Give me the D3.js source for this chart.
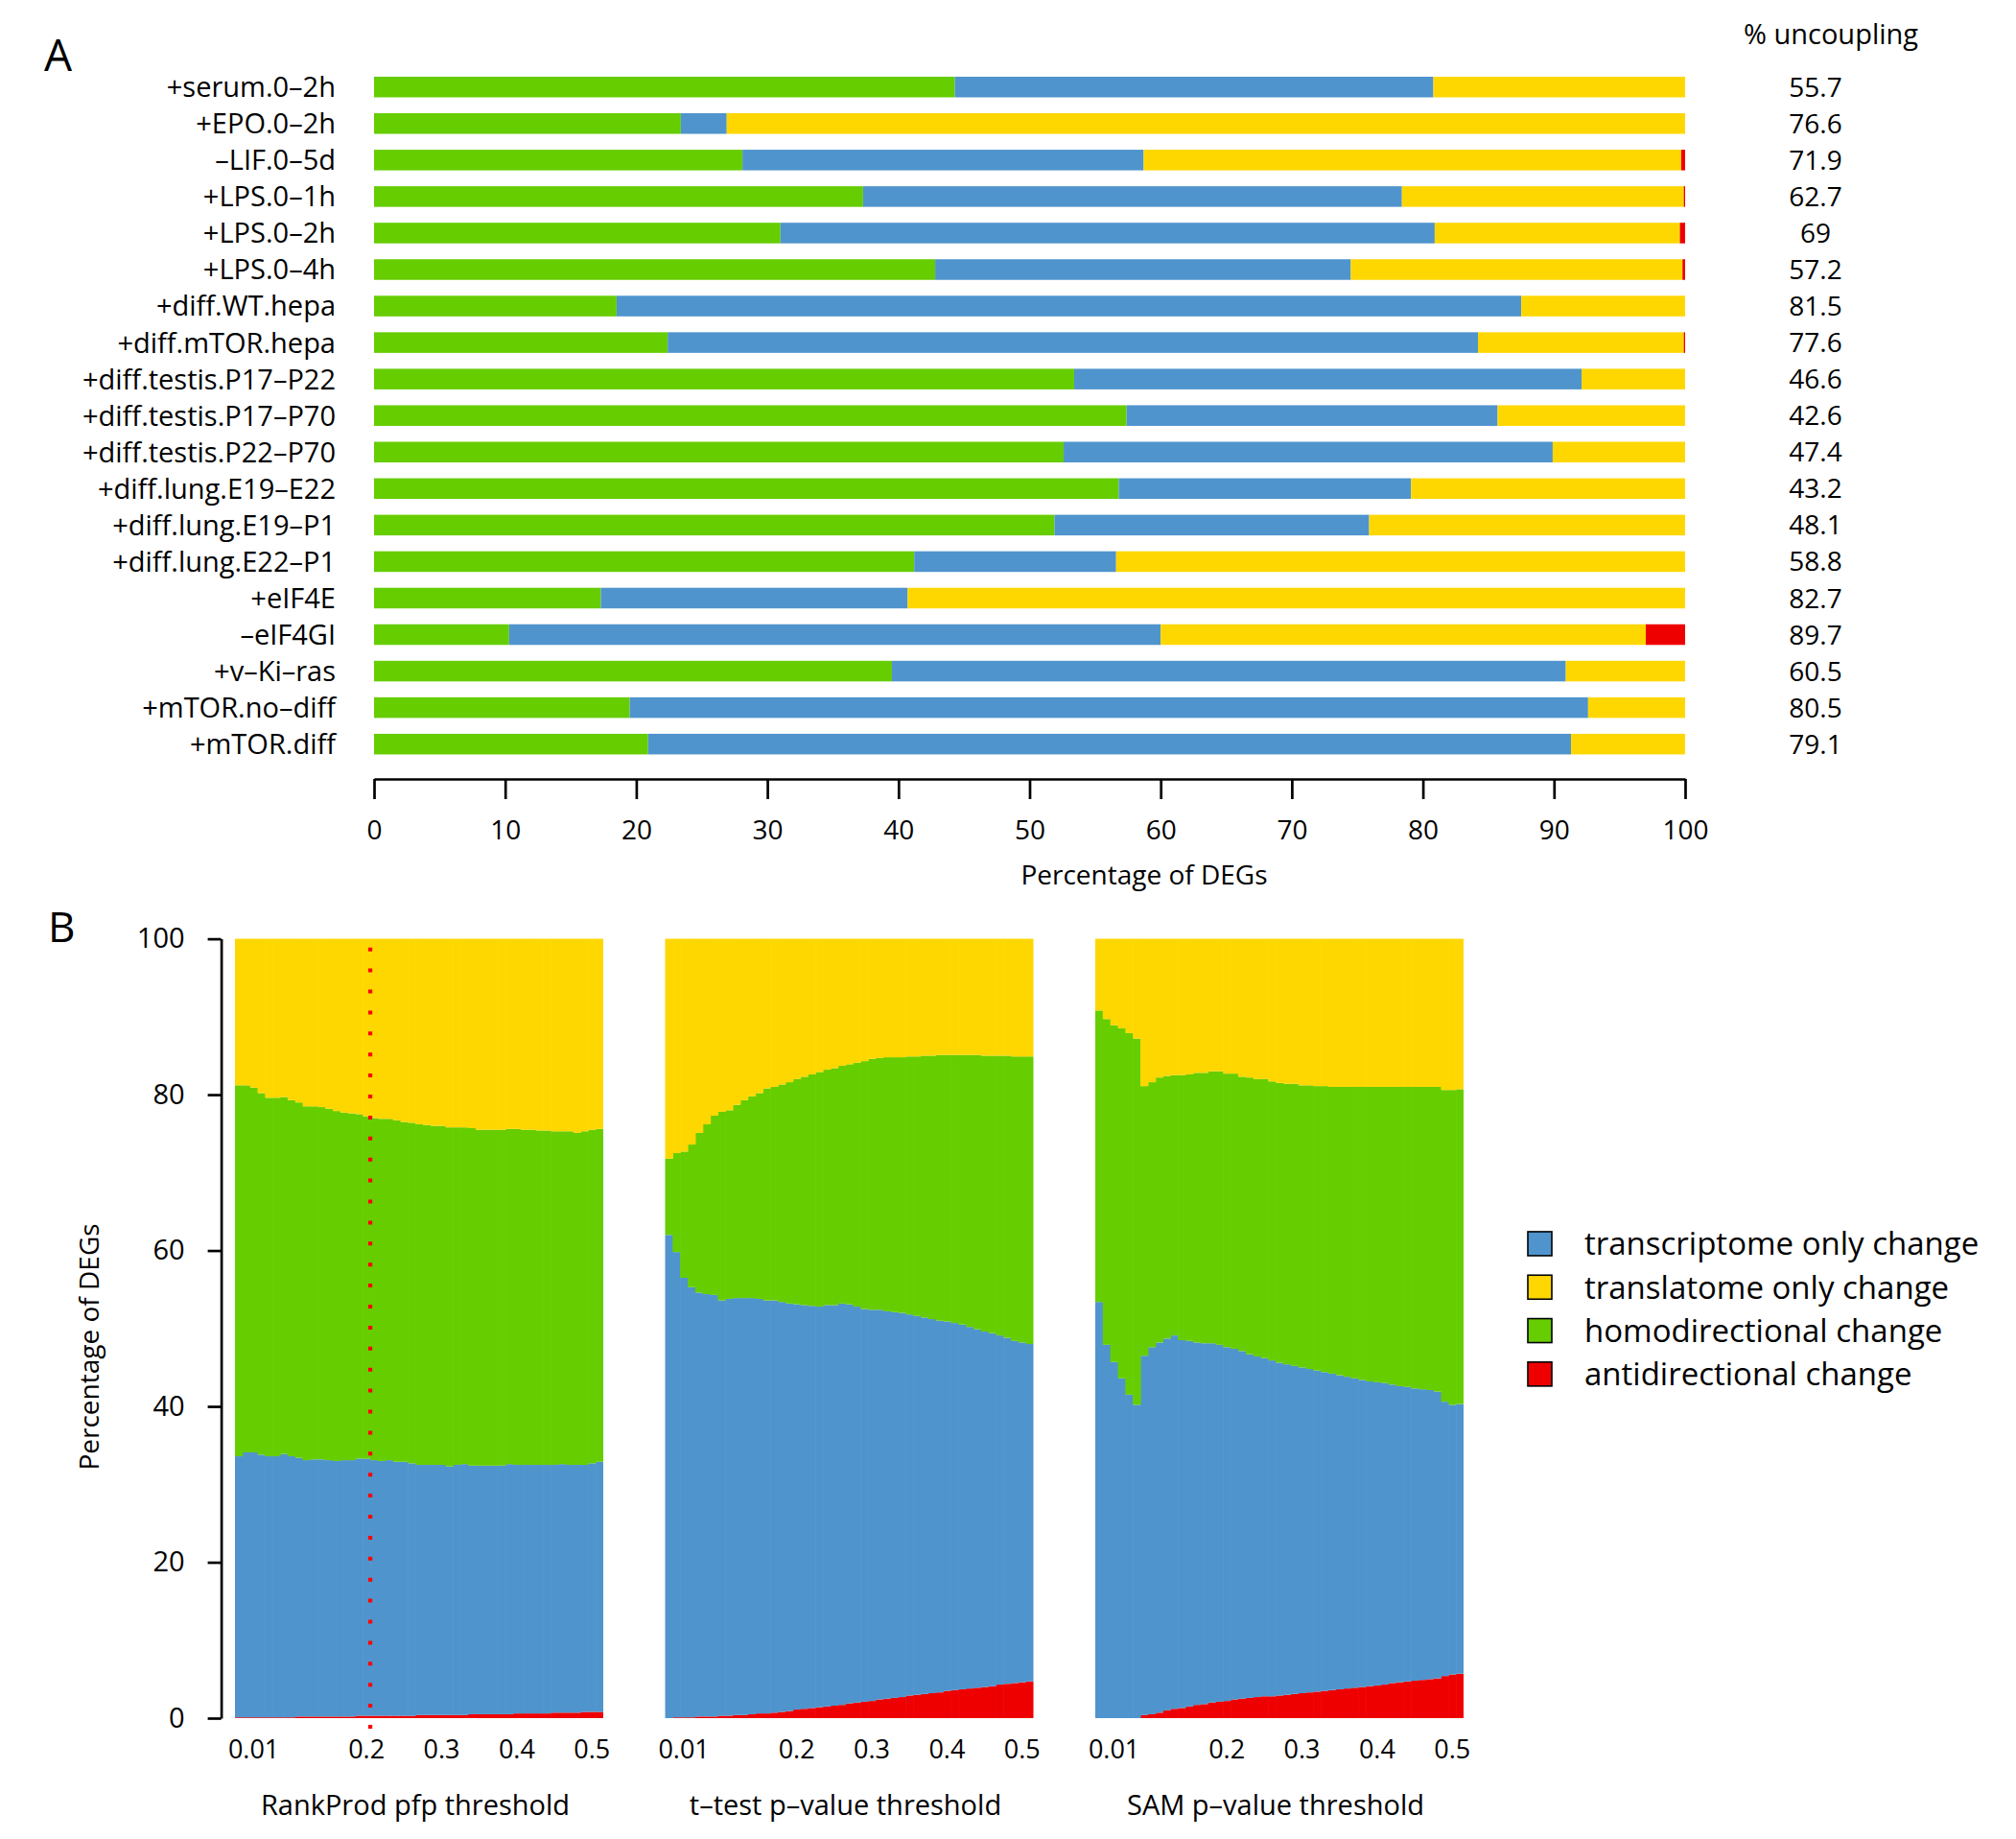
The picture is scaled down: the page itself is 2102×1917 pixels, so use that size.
<!DOCTYPE html>
<html><head><meta charset="utf-8">
<script src="https://cdn.jsdelivr.net/npm/d3@7"></script>
<style>
body{margin:0;background:#fff}
svg{display:block}
text{font-family:"Open Sans",sans-serif;fill:#000}
</style>
</head><body>
<svg id="chart" width="2102" height="1917"></svg>
<script>
// ---------------- Panel A data ----------------
const categories = ["+serum.0–2h","+EPO.0–2h","–LIF.0–5d","+LPS.0–1h","+LPS.0–2h","+LPS.0–4h",
  "+diff.WT.hepa","+diff.mTOR.hepa","+diff.testis.P17–P22","+diff.testis.P17–P70","+diff.testis.P22–P70",
  "+diff.lung.E19–E22","+diff.lung.E19–P1","+diff.lung.E22–P1","+eIF4E","–eIF4GI","+v–Ki–ras",
  "+mTOR.no–diff","+mTOR.diff"];
const homoA   = [44.3,23.4,28.1,37.3,31.0,42.8,18.5,22.4,53.4,57.4,52.6,56.8,51.9,41.2,17.3,10.3,39.5,19.5,20.9];
const transcA = [36.5,3.5,30.6,41.1,49.9,31.7,69.0,61.8,38.7,28.3,37.3,22.3,24.0,15.4,23.4,49.7,51.4,73.1,70.4];
const translA = [19.2,73.1,41.0,21.5,18.7,25.3,12.5,15.7,7.9,14.3,10.1,20.9,24.1,43.4,59.3,37.0,9.1,7.4,8.7];
const antiA   = [0,0,0.3,0.1,0.4,0.2,0,0.1,0,0,0,0,0,0,0,3.0,0,0,0];
const uncoupling = ["55.7","76.6","71.9","62.7","69","57.2","81.5","77.6","46.6","42.6","47.4","43.2","48.1","58.8","82.7","89.7","60.5","80.5","79.1"];
const xTicksA = [0,10,20,30,40,50,60,70,80,90,100];

// ---------------- Panel B data ----------------
const thresholds = [0.001,0.005,0.01,0.02,0.03,0.04,0.05,0.06,0.07,0.08,0.09,0.10,0.11,0.12,0.14,0.16,0.18,
  0.20,0.21,0.22,0.23,0.24,0.25,0.26,0.27,0.28,0.29,0.30,0.31,0.32,0.33,0.34,0.35,0.36,0.37,0.38,0.39,
  0.40,0.41,0.42,0.43,0.44,0.45,0.46,0.47,0.48,0.49,0.50,0.51];
const xTickLabelsB = [0.01,0.2,0.3,0.4,0.5];
const yTicksB = [0,20,40,60,80,100];

const rankAnti = [0.1,0.1,0.1,0.1,0.1,0.1,0.1,0.1,0.2,0.2,0.2,0.2,0.2,0.2,0.2,0.2,0.3,0.3,0.3,0.3,0.3,0.3,0.3,0.3,
  0.4,0.4,0.4,0.4,0.4,0.4,0.4,0.5,0.5,0.5,0.5,0.5,0.5,0.6,0.6,0.6,0.6,0.6,0.7,0.7,0.7,0.7,0.8,0.8,0.8];
const rankTransc = [33.5,34.0,34.0,33.7,33.5,33.5,33.8,33.5,33.2,32.9,33.0,33.0,32.9,32.8,32.9,32.9,33.0,33.0,32.8,32.7,
  32.8,32.6,32.6,32.4,32.1,32.1,32.1,32.1,31.9,32.1,32.2,31.9,31.9,31.9,31.9,31.9,32.1,31.9,31.9,31.9,
  31.9,31.9,31.8,31.9,31.8,31.8,31.7,31.9,32.1];
const rankHomo = [47.6,47.1,46.8,46.4,46.0,46.0,45.8,45.7,45.6,45.4,45.3,45.2,45.1,44.9,44.6,44.5,44.2,43.9,43.9,43.9,
  43.8,43.8,43.6,43.7,43.7,43.6,43.5,43.5,43.5,43.3,43.2,43.3,43.1,43.1,43.1,43.1,43.0,43.1,43.0,43.0,
  42.9,42.9,42.8,42.7,42.8,42.6,42.8,42.8,42.7];
const rankTransl = [18.8,18.8,19.1,19.8,20.4,20.4,20.3,20.7,21.0,21.5,21.5,21.6,21.8,22.1,22.3,22.4,22.5,22.8,23.0,23.1,
  23.1,23.3,23.5,23.6,23.8,23.9,24.0,24.0,24.2,24.2,24.2,24.3,24.5,24.5,24.5,24.5,24.4,24.4,24.5,24.5,
  24.6,24.6,24.7,24.7,24.7,24.9,24.7,24.5,24.4];

const tAnti = [0.0,0.1,0.1,0.1,0.2,0.2,0.2,0.3,0.3,0.4,0.4,0.5,0.6,0.6,0.7,0.8,0.9,1.1,1.2,1.3,
  1.4,1.5,1.6,1.7,1.9,2.0,2.1,2.2,2.4,2.5,2.6,2.7,2.9,3.0,3.1,3.2,3.3,3.5,3.6,3.7,
  3.8,3.9,4.0,4.1,4.3,4.4,4.5,4.6,4.7];
const tTransc = [62.0,59.7,56.4,55.2,54.4,54.2,54.1,53.3,53.5,53.5,53.5,53.4,53.2,53.0,52.9,52.6,52.3,52.0,51.8,51.6,
  51.4,51.5,51.4,51.5,51.2,50.8,50.4,50.2,50.0,49.7,49.5,49.3,48.9,48.6,48.3,48.0,47.7,47.4,47.1,46.8,
  46.4,46.0,45.6,45.3,44.8,44.4,43.9,43.6,43.3];
const tHomo = [9.8,12.7,16.2,18.3,20.5,21.8,23.0,24.2,24.2,24.8,25.4,25.9,26.4,27.2,27.4,27.9,28.4,28.9,29.3,29.7,
  30.1,30.2,30.4,30.5,30.8,31.3,31.8,32.2,32.3,32.6,32.7,32.8,33.1,33.3,33.6,33.8,34.1,34.2,34.4,34.6,
  34.9,35.2,35.4,35.6,35.9,36.2,36.5,36.7,36.9];
const tTransl = [28.2,27.5,27.3,26.4,24.9,23.8,22.7,22.2,22.0,21.3,20.7,20.2,19.8,19.2,19.0,18.7,18.4,18.0,17.7,17.4,
  17.1,16.8,16.6,16.3,16.1,15.9,15.7,15.4,15.3,15.2,15.2,15.2,15.1,15.1,15.0,15.0,14.9,14.9,14.9,14.9,
  14.9,14.9,15.0,15.0,15.0,15.0,15.1,15.1,15.1];

const samAnti = [0,0,0,0,0,0,0.4,0.5,0.7,1.0,1.2,1.3,1.5,1.7,1.8,2.0,2.1,2.2,2.4,2.5,
  2.6,2.7,2.8,2.8,2.9,3.0,3.1,3.2,3.3,3.4,3.5,3.6,3.7,3.8,3.9,4.0,4.1,4.2,4.3,4.5,
  4.6,4.7,4.8,4.9,5.0,5.1,5.4,5.6,5.7];
const samTransc = [53.4,47.9,45.7,43.6,41.5,40.2,46.1,47.1,47.5,47.7,47.9,47.2,46.9,46.5,46.3,46.1,45.8,45.4,45.0,44.6,
  44.1,43.7,43.4,43.1,42.7,42.4,42.1,41.8,41.5,41.2,40.9,40.6,40.3,40.0,39.7,39.4,39.1,38.9,38.7,38.3,
  38.0,37.8,37.5,37.3,37.1,36.8,35.2,34.6,34.6];
const samHomo = [37.4,41.8,43.2,44.9,46.4,47.0,34.6,34.0,34.0,33.7,33.4,34.0,34.2,34.6,34.7,34.9,35.1,35.1,35.3,35.2,
  35.5,35.6,35.8,35.8,35.9,36.0,36.2,36.2,36.4,36.5,36.7,36.8,37.0,37.2,37.4,37.6,37.8,37.9,38.0,38.2,
  38.4,38.5,38.7,38.8,38.9,39.1,40.0,40.4,40.4];
const samTransl = [9.2,10.3,11.1,11.5,12.1,12.8,18.9,18.4,17.8,17.6,17.5,17.5,17.4,17.2,17.2,17.0,17.0,17.3,17.3,17.7,
  17.8,18.0,18.0,18.3,18.5,18.6,18.6,18.8,18.8,18.9,18.9,19.0,19.0,19.0,19.0,19.0,19.0,19.0,19.0,19.0,
  19.0,19.0,19.0,19.0,19.0,19.0,19.4,19.4,19.3];

const methodTitles = ["RankProd pfp threshold","t–test p–value threshold","SAM p–value threshold"];
const legendLabels = ["transcriptome only change","translatome only change","homodirectional change","antidirectional change"];
const legendKeys = ["transc","transl","homo","anti"];

// ---------------- Drawing ----------------
const COLORS = {anti:"#EE0000", transc:"#4F94CD", transl:"#FFD700", homo:"#66CD00"};
const svg = d3.select("#chart");
const FONT = "'Open Sans', sans-serif";

// Panel letters
svg.append("text").attr("x",46).attr("y",74).attr("font-size",46).text("A");
svg.append("text").attr("x",50).attr("y",982).attr("font-size",44).text("B");

// ----- Panel A -----
const xA = d3.scaleLinear().domain([0,100]).range([390,1757]);
const yA = d3.scaleBand().domain(categories).range([71.7,794.7]).paddingInner(0.435).paddingOuter(0.2175);
const rowsA = categories.map((c,i)=>({cat:c, homo:homoA[i], transc:transcA[i], transl:translA[i], anti:antiA[i]}));
const stackA = d3.stack().keys(["homo","transc","transl","anti"])(rowsA);
svg.append("g").selectAll("g").data(stackA).join("g").attr("fill",d=>COLORS[d.key])
  .selectAll("rect").data(d=>d).join("rect")
  .attr("x",d=>xA(d[0])).attr("width",d=>Math.max(0,xA(d[1])-xA(d[0])))
  .attr("y",d=>yA(d.data.cat)).attr("height",yA.bandwidth());

// category labels
svg.append("g").selectAll("text").data(categories).join("text")
  .attr("x",350).attr("y",d=>yA(d)+yA.bandwidth()/2).attr("dy","0.36em")
  .attr("text-anchor","end").attr("font-size",29).text(d=>d);

// uncoupling column
svg.append("text").attr("x",1909).attr("y",46).attr("text-anchor","middle").attr("font-size",29).text("% uncoupling");
svg.append("g").selectAll("text").data(categories).join("text")
  .attr("x",1893).attr("y",d=>yA(d)+yA.bandwidth()/2).attr("dy","0.36em")
  .attr("text-anchor","middle").attr("font-size",28).text((d,i)=>uncoupling[i]);

// x axis A
const axA = svg.append("g").attr("transform","translate(0,812)")
  .call(d3.axisBottom(xA).tickValues(xTicksA).tickSize(21).tickSizeOuter(0).tickPadding(22));
axA.attr("font-family",FONT).attr("font-size",28);
axA.select(".domain").attr("stroke","#000").attr("stroke-width",2.7);
axA.selectAll(".tick line").attr("stroke","#000").attr("stroke-width",2.7);
axA.selectAll(".tick text").attr("fill","#000");
svg.append("text").attr("x",1193).attr("y",922).attr("text-anchor","middle").attr("font-size",28).text("Percentage of DEGs");

// ----- Panel B -----
const yB = d3.scaleLinear().domain([0,100]).range([1791,978.6]);
const panelLefts = [245,693.5,1142];
const panelW = 384;
const panelData = [
  {anti:rankAnti, transc:rankTransc, homo:rankHomo, transl:rankTransl},
  {anti:tAnti, transc:tTransc, homo:tHomo, transl:tTransl},
  {anti:samAnti, transc:samTransc, homo:samHomo, transl:samTransl}
];

panelData.forEach((p,pi)=>{
  const left = panelLefts[pi];
  const x = d3.scaleBand().domain(thresholds).range([left,left+panelW]).padding(0);
  const rows = thresholds.map((t,i)=>({t, anti:p.anti[i], transc:p.transc[i], homo:p.homo[i], transl:p.transl[i]}));
  const st = d3.stack().keys(["anti","transc","homo","transl"])(rows);
  const g = svg.append("g");
  g.selectAll("g").data(st).join("g").attr("fill",d=>COLORS[d.key])
    .selectAll("rect").data(d=>d).join("rect")
    .attr("x",d=>x(d.data.t))
    .attr("width",(d,i)=> i===thresholds.length-1 ? x.bandwidth() : x.bandwidth()+0.6)
    .attr("y",d=>yB(d[1])).attr("height",d=>Math.max(0,yB(d[0])-yB(d[1])));

  const ax = svg.append("g").attr("transform","translate(0,1791)")
    .call(d3.axisBottom(x).tickValues(xTickLabelsB).tickFormat(d=>String(d)).tickSize(0).tickPadding(23));
  ax.select(".domain").remove();
  ax.attr("font-family","'Liberation Sans Narrow','Arial Narrow','Liberation Sans',sans-serif").attr("font-size",27);
  ax.selectAll(".tick text").attr("fill","#000");

  svg.append("text").attr("x",left+panelW/2-4).attr("y",1892).attr("text-anchor","middle")
    .attr("font-size",29).text(methodTitles[pi]);

  if (pi===0) {
    const xl = x(0.2)+x.bandwidth();
    svg.append("line").attr("x1",xl).attr("x2",xl).attr("y1",1802).attr("y2",976)
      .attr("stroke","#FF0000").attr("stroke-width",4.2)
      .attr("stroke-dasharray","4 17.9");
  }
});

// y axis B
const ayB = svg.append("g").attr("transform","translate(230.6,0)")
  .call(d3.axisLeft(yB).tickValues(yTicksB).tickSize(14).tickSizeOuter(0).tickPadding(24));
ayB.attr("font-family",FONT).attr("font-size",29);
ayB.select(".domain").attr("stroke","#000").attr("stroke-width",2.7);
ayB.selectAll(".tick line").attr("stroke","#000").attr("stroke-width",2.7);
ayB.selectAll(".tick text").attr("fill","#000");
svg.append("text").attr("transform","translate(103,1404) rotate(-90)").attr("text-anchor","middle")
  .attr("font-size",28).text("Percentage of DEGs");

// legend
const yLeg = d3.scaleBand().domain(legendLabels).range([1273.8,1455]).padding(0);
const lg = svg.append("g");
lg.selectAll("rect").data(legendLabels).join("rect")
  .attr("x",1593).attr("y",d=>yLeg(d)+yLeg.bandwidth()/2-12.5).attr("width",25).attr("height",25)
  .attr("fill",(d,i)=>COLORS[legendKeys[i]]).attr("stroke","#000").attr("stroke-width",1.6);
lg.selectAll("text").data(legendLabels).join("text")
  .attr("x",1652).attr("y",d=>yLeg(d)+yLeg.bandwidth()/2).attr("dy","0.36em")
  .attr("font-size",33).text(d=>d);
</script>
</body></html>
